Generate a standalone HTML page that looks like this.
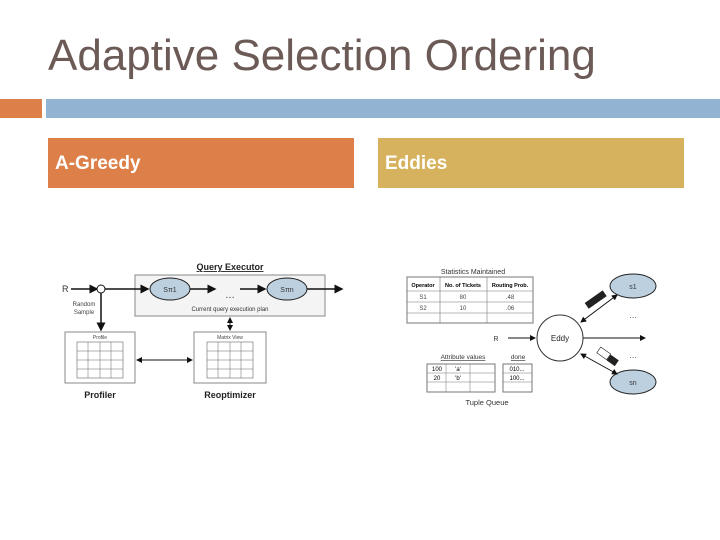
<!DOCTYPE html>
<html><head><meta charset="utf-8"><style>
body{margin:0;width:720px;height:540px;background:#fff;overflow:hidden;font-family:"Liberation Sans",sans-serif;position:relative}
.t{position:absolute;left:48px;top:31px;font-size:44px;color:#6b5a55;white-space:nowrap}
.b{position:absolute}
.h{position:absolute;color:#fff;font-weight:bold;font-size:19px;height:50px;line-height:52px;padding-left:7px;box-sizing:border-box}
svg{position:absolute;left:0;top:0}
</style></head><body>
<div class="t">Adaptive Selection Ordering</div>
<div class="b" style="left:0;top:99px;width:42px;height:19px;background:#dc7f48"></div>
<div class="b" style="left:46px;top:99px;width:674px;height:19px;background:#93b3d2"></div>
<div class="h" style="left:48px;top:138px;width:306px;background:#dc7f48">A-Greedy</div>
<div class="h" style="left:378px;top:138px;width:306px;background:#d6b25e">Eddies</div>
<svg width="720" height="540" font-family="Liberation Sans, sans-serif">
<defs><marker id="a" markerWidth="6" markerHeight="6" refX="5" refY="3" orient="auto"><path d="M0,0L6,3L0,6z" fill="#111"/></marker>
<marker id="s" markerWidth="6" markerHeight="6" refX="1" refY="3" orient="auto"><path d="M6,0L0,3L6,6z" fill="#111"/></marker></defs>
<text x="230" y="270" font-size="9" font-weight="bold" text-anchor="middle" text-decoration="underline" fill="#222">Query Executor</text>
<rect x="135" y="275" width="190" height="41" fill="#f4f4f4" stroke="#888"/>
<text x="62" y="292" font-size="9" fill="#333">R</text>
<line x1="71" y1="289" x2="97" y2="289" stroke="#111" stroke-width="1.5" marker-end="url(#a)"/>
<line x1="105" y1="289" x2="148" y2="289" stroke="#111" stroke-width="1.5" marker-end="url(#a)"/>
<circle cx="101" cy="289" r="4" fill="#fff" stroke="#111"/>
<ellipse cx="170" cy="289" rx="20" ry="11" fill="#bcd0e0" stroke="#222"/>
<text x="170" y="292" font-size="7" text-anchor="middle" fill="#333">Sπ1</text>
<line x1="190" y1="289" x2="215" y2="289" stroke="#111" stroke-width="1.5" marker-end="url(#a)"/>
<text x="230" y="298" font-size="10" text-anchor="middle" fill="#333">…</text>
<line x1="240" y1="289" x2="265" y2="289" stroke="#111" stroke-width="1.5" marker-end="url(#a)"/>
<ellipse cx="287" cy="289" rx="20" ry="11" fill="#bcd0e0" stroke="#222"/>
<text x="287" y="292" font-size="7" text-anchor="middle" fill="#333">Sπn</text>
<line x1="307" y1="289" x2="342" y2="289" stroke="#111" stroke-width="1.5" marker-end="url(#a)"/>
<text x="230" y="311" font-size="6" text-anchor="middle" fill="#333">Current query execution plan</text>
<text x="84" y="306" font-size="6" text-anchor="middle" fill="#444">Random</text>
<text x="84" y="314" font-size="6" text-anchor="middle" fill="#444">Sample</text>
<line x1="101" y1="293" x2="101" y2="330" stroke="#111" stroke-width="1.5" marker-end="url(#a)"/>
<line x1="230" y1="318" x2="230" y2="330" stroke="#111" stroke-width="1" marker-start="url(#s)" marker-end="url(#a)"/>
<rect x="65" y="332" width="70" height="51" fill="#fff" stroke="#888"/>
<text x="100" y="339" font-size="5" text-anchor="middle" fill="#444">Profile</text>
<rect x="77" y="342" width="46" height="36" fill="#fff" stroke="#666" stroke-width=".6"/>
<path d="M77,351H123M77,360H123M77,369H123M88,342V378M100,342V378M111,342V378" stroke="#666" stroke-width=".5"/>
<rect x="194" y="332" width="72" height="51" fill="#fff" stroke="#888"/>
<text x="230" y="339" font-size="5" text-anchor="middle" fill="#444">Matrix View</text>
<rect x="207" y="342" width="46" height="36" fill="#fff" stroke="#666" stroke-width=".6"/>
<path d="M207,351H253M207,360H253M207,369H253M218,342V378M230,342V378M241,342V378" stroke="#666" stroke-width=".5"/>
<line x1="137" y1="360" x2="192" y2="360" stroke="#111" stroke-width="1" marker-start="url(#s)" marker-end="url(#a)"/>
<text x="100" y="398" font-size="9" font-weight="bold" text-anchor="middle" fill="#222">Profiler</text>
<text x="230" y="398" font-size="9" font-weight="bold" text-anchor="middle" fill="#222">Reoptimizer</text>
<text x="473" y="274" font-size="7" text-anchor="middle" fill="#333">Statistics Maintained</text>
<rect x="407" y="277" width="126" height="46" fill="#fff" stroke="#777"/>
<path d="M407,291H533M407,302H533M407,313H533M440,277V323M487,277V323" stroke="#777" stroke-width=".6"/>
<text x="423" y="287" font-size="5.5" font-weight="bold" text-anchor="middle">Operator</text>
<text x="463" y="287" font-size="5.5" font-weight="bold" text-anchor="middle">No. of Tickets</text>
<text x="510" y="287" font-size="5.5" font-weight="bold" text-anchor="middle">Routing Prob.</text>
<text x="423" y="299" font-size="6" text-anchor="middle" fill="#444">S1</text><text x="463" y="299" font-size="6" text-anchor="middle" fill="#444">80</text><text x="510" y="299" font-size="6" text-anchor="middle" fill="#444">.48</text>
<text x="423" y="310" font-size="6" text-anchor="middle" fill="#444">S2</text><text x="463" y="310" font-size="6" text-anchor="middle" fill="#444">10</text><text x="510" y="310" font-size="6" text-anchor="middle" fill="#444">.06</text>
<circle cx="560" cy="338" r="23" fill="#fff" stroke="#333"/>
<text x="560" y="341" font-size="8" text-anchor="middle" fill="#222">Eddy</text>
<text x="496" y="341" font-size="7" text-anchor="middle" fill="#333">R</text>
<line x1="508" y1="338" x2="535" y2="338" stroke="#111" stroke-width="1" marker-end="url(#a)"/>
<line x1="583" y1="338" x2="645" y2="338" stroke="#111" stroke-width="1" marker-end="url(#a)"/>
<ellipse cx="633" cy="286" rx="23" ry="12" fill="#bcd0e0" stroke="#222"/>
<text x="633" y="289" font-size="7" text-anchor="middle" fill="#333">s1</text>
<ellipse cx="633" cy="382" rx="23" ry="12" fill="#bcd0e0" stroke="#222"/>
<text x="633" y="385" font-size="7" text-anchor="middle" fill="#333">sn</text>
<line x1="581" y1="322" x2="617" y2="295" stroke="#111" stroke-width="1" marker-start="url(#s)" marker-end="url(#a)"/>
<line x1="581" y1="354" x2="617" y2="374" stroke="#111" stroke-width="1" marker-start="url(#s)" marker-end="url(#a)"/>
<rect x="585" y="296" width="22" height="7" fill="#222" transform="rotate(-35 596 300)"/>
<rect x="598" y="350" width="12" height="7" fill="#fff" stroke="#222" stroke-width=".6" transform="rotate(35 604 353)"/>
<rect x="608" y="357" width="10" height="7" fill="#222" transform="rotate(35 613 360)"/>
<text x="633" y="318" font-size="8" text-anchor="middle" fill="#333">…</text>
<text x="633" y="358" font-size="8" text-anchor="middle" fill="#333">…</text>
<text x="463" y="359" font-size="6.5" text-anchor="middle" text-decoration="underline" fill="#333">Attribute values</text>
<text x="518" y="359" font-size="6.5" text-anchor="middle" text-decoration="underline" fill="#333">done</text>
<rect x="427" y="364" width="68" height="28" fill="#fff" stroke="#777"/>
<path d="M427,373H495M427,382H495M446,364V392M470,364V392" stroke="#777" stroke-width=".5"/>
<text x="437" y="371" font-size="6" text-anchor="middle">100</text><text x="458" y="371" font-size="6" text-anchor="middle">'a'</text>
<text x="437" y="380" font-size="6" text-anchor="middle">20</text><text x="458" y="380" font-size="6" text-anchor="middle">'b'</text>
<rect x="503" y="364" width="29" height="28" fill="#fff" stroke="#777"/>
<path d="M503,373H532M503,382H532" stroke="#777" stroke-width=".5"/>
<text x="517" y="371" font-size="6" text-anchor="middle">010...</text><text x="517" y="380" font-size="6" text-anchor="middle">100...</text>
<text x="487" y="405" font-size="7.5" text-anchor="middle" fill="#333">Tuple Queue</text>
</svg>
</body></html>
